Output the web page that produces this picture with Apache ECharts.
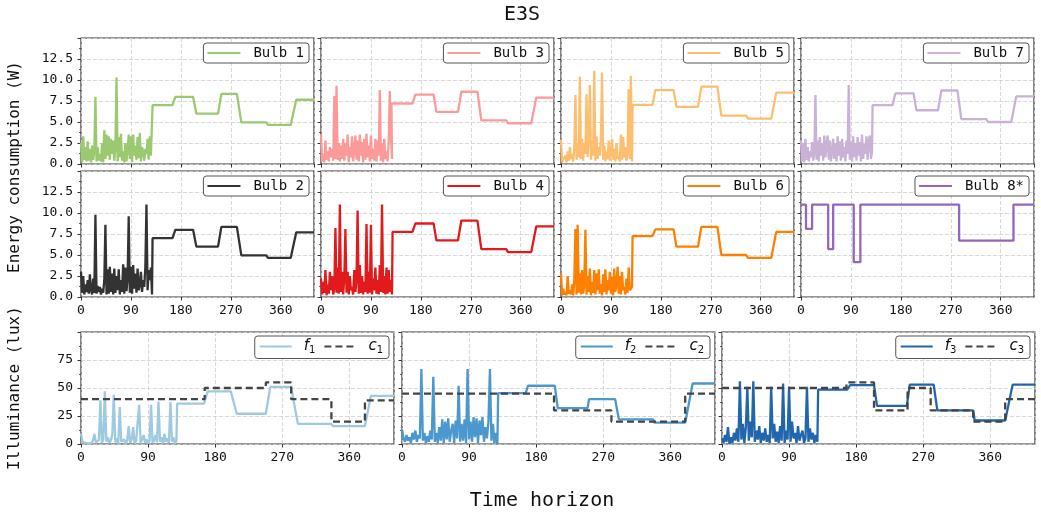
<!DOCTYPE html>
<html><head><meta charset="utf-8">
<script src="https://cdn.jsdelivr.net/npm/echarts@6/dist/echarts.min.js"></script>
<style>html,body{margin:0;padding:0;background:#fff}#c{width:1041px;height:512px}</style>
</head><body><div id="c"></div>
<script>
// ---------- DATA ----------
// noisy start (t = 0,2,4,...,128)
const bulb1Noise = [2.5,0.2,3.3,0.5,2.0,0.3,2.7,0.4,1.8,0.2, 2.2,0.5,1.5,8.0,0.3,2.0,0.4,1.2,0.3,2.5, 0.2,4.0,0.6,3.5,1.0,3.3,0.5,3.0,1.2,2.8, 0.4,2.0,10.3,0.3,3.2,0.8,3.6,0.4,1.5,0.2, 2.5,0.3,1.8,3.5,0.6,3.3,0.2,3.5,1.0,2.2, 0.5,3.2,0.7,3.7,0.3,2.0,1.5,0.4,1.8,1.2, 3.0,0.5,3.3,1.0,0.8];
const bulb2Noise = [3.0,0.5,2.5,0.3,1.5,0.6,2.0,0.4,2.7,0.8, 0.3,2.2,0.5,9.8,0.4,1.3,0.6,1.2,0.3,1.0, 0.5,2.0,8.6,0.3,3.3,0.4,3.6,0.6,2.8,0.3, 3.4,0.5,2.5,0.8,3.3,0.3,2.0,0.6,3.9,0.4, 3.5,0.7,2.2,9.6,0.5,3.6,0.4,3.8,1.0,2.8, 0.5,3.4,0.8,1.5,3.0,0.6,2.0,1.2,3.6,11.0, 0.8,3.2,2.0,3.5,0.3];
const bulb3Noise = [3.5,0.3,1.2,0.2,2.8,0.5,1.5,0.3,2.0,0.8, 1.8,0.4,8.1,0.6,9.3,0.5,2.5,0.3,2.2,0.6, 3.0,0.4,2.5,1.0,3.5,0.2,2.0,0.8,3.3,0.3, 1.5,3.4,0.5,2.8,0.3,3.5,1.0,2.6,0.2,3.0, 0.5,3.6,0.8,2.2,0.3,3.4,0.6,1.8,0.4,3.0, 0.3,2.8,1.0,8.8,0.4,2.5,0.2,3.0,0.6,1.5, 0.3,2.6,8.7,3.5,0.6];
const bulb4Noise = [2.2,0.3,1.8,0.5,3.2,0.2,1.5,0.4,3.0,0.8, 2.5,0.3,1.0,8.2,0.5,3.5,0.4,11.0,0.6,3.0, 0.3,2.2,8.1,0.5,3.0,0.3,2.5,0.8,1.2,0.3, 3.2,0.6,2.0,10.3,0.4,3.8,0.5,2.5,0.3,1.8, 0.6,8.7,0.4,3.0,0.5,8.6,0.3,2.2,0.8,3.5, 0.4,2.0,0.3,3.8,0.6,11.0,0.5,2.5,0.3,3.5, 0.4,3.2,0.6,2.0,0.3];
const bulb5Noise = [2.9,0.2,0.5,0.3,1.0,0.2,1.5,0.4,2.0,0.6, 1.2,0.3,2.0,8.2,0.5,2.5,0.8,10.4,0.6,3.0, 0.4,2.5,1.2,8.3,0.8,3.2,9.4,0.5,2.8,1.0, 11.1,0.4,3.3,0.6,2.0,1.0,3.0,10.9,0.5,2.2, 0.3,1.5,0.6,2.8,0.4,1.2,3.0,0.5,1.8,0.3, 2.5,0.6,1.0,0.3,3.5,0.5,3.2,0.8,2.0,0.4, 1.5,8.9,0.6,10.5,0.3];
const bulb6Noise = [2.8,0.2,1.0,0.3,0.6,0.2,2.5,0.4,0.8,0.3, 1.5,0.2,2.0,8.1,0.3,8.6,0.5,2.8,0.3,3.2, 0.4,1.5,8.0,0.3,2.5,0.6,3.4,0.2,1.8,0.5, 3.2,0.3,2.8,0.8,3.3,0.4,1.5,0.2,2.7,0.6, 3.3,0.3,2.0,0.8,3.0,0.4,2.4,0.2,3.4,0.6, 1.5,3.6,0.4,2.5,0.3,3.0,0.8,1.2,0.3,2.2, 0.5,3.5,0.8,1.0,1.2];
const bulb7Noise = [2.8,0.3,2.5,0.2,3.0,0.5,2.0,0.3,1.5,0.8, 2.6,0.4,1.2,8.2,0.5,2.8,0.3,3.2,1.0,2.5, 0.4,3.4,0.8,2.2,3.4,0.5,2.8,0.3,1.5,3.0, 0.6,2.5,0.3,3.3,1.0,2.7,0.4,3.0,0.8,2.0, 0.3,2.8,1.2,9.4,0.5,2.6,0.3,3.3,0.8,2.5, 0.4,3.2,1.0,2.6,0.3,3.5,0.6,2.4,1.2,3.3, 0.5,2.8,3.4,0.6,1.5];
// scheduled part [time, W]
const bulb1Steps = [[129,7.0],[165,7.0],[170,8.0],[202,8.0],[208,6.0],[247,6.0],[253,8.35],[281,8.35],[289,4.95],[334,4.95],[337,4.65],[378,4.65],[388,7.65],[420,7.65]];
const bulb2Steps = [[129,7.0],[165,7.0],[170,8.0],[202,8.0],[208,6.0],[247,6.0],[253,8.35],[281,8.35],[289,4.95],[334,4.95],[337,4.65],[378,4.65],[388,7.7],[420,7.7]];
const bulb3Steps = [[127,7.2],[165,7.2],[170,8.25],[203,8.25],[208,6.2],[247,6.2],[253,8.6],[282,8.6],[289,5.2],[334,5.2],[337,4.85],[379,4.85],[388,7.9],[420,7.9]];
const bulb4Steps = [[129,7.75],[165,7.75],[170,8.75],[203,8.75],[208,6.75],[247,6.75],[253,9.1],[282,9.1],[289,5.7],[334,5.7],[337,5.35],[379,5.35],[388,8.4],[420,8.4]];
const bulb5Steps = [[129,7.05],[165,7.05],[170,8.8],[203,8.8],[208,6.8],[247,6.8],[253,9.2],[282,9.2],[289,5.75],[334,5.75],[337,5.4],[379,5.4],[388,8.5],[420,8.5]];
const bulb6Steps = [[129,7.25],[165,7.25],[170,8.05],[203,8.05],[208,6.0],[247,6.0],[253,8.35],[282,8.35],[289,5.0],[334,5.0],[337,4.65],[379,4.65],[388,7.75],[420,7.75]];
const bulb7Steps = [[129,7.0],[165,7.0],[170,8.4],[203,8.4],[208,6.4],[247,6.4],[253,8.75],[282,8.75],[289,5.35],[334,5.35],[337,5.0],[379,5.0],[388,8.05],[420,8.05]];
const bulb8Points = [[0,11.0],[9,11.0],[9,8.1],[20,8.1],[20,11.0],[49,11.0],[49,5.7],[58,5.7],[58,11.0],[95,11.0],[95,4.15],[107,4.15],[107,11.0],[285,11.0],[285,6.7],[383,6.7],[383,11.0],[420,11.0]];

// illuminance (lux)
const f1Noise = [9.5,2.0,3.0,1.0,2.5,0.5,1.5,0.8,3.0,9.0, 1.5,0.5,3.5,39,1.0,4.0,47,2.0,6.0,1.0, 3.0,8.0,44,1.5,5.0,0.5,33,2.0,1.0,4.0, 0.5,3.0,16,1.0,4.0,15,0.5,3.0,1.5,35, 0.5,2.0,8.0,1.0,4.0,0.5,2.5,35,1.0,3.0, 8.0,1.5,38,2.0,6.0,0.5,9.0,2.0,5.0,1.0, 37.5,2.0,6.0,0.5,3.0];
const f2Noise = [13,5,2,8,3,6,1,10,4,12, 2,8,5,67,3,10,1,7,2,12, 4,60,2,10,1,15,3,22,1,20, 4,23,2,12,18,1,21,5,52,2, 18,3,22,1,67,4,20,2,24,6, 23,1,21,8,24,2,15,5,20,67, 3,18,1,10,0];
const f3Noise = [5,1,8,2,15,0,6,1,10,3, 14,2,56,4,18,1,15,51,3,20, 6,56,2,12,4,16,1,10,3,14, 2,8,1,51,5,18,2,11,1,16, 3,54,1,12,4,51,2,20,5,10, 1,16,3,8,12,1,5,51,2,14, 4,10,1,8,2];
const f1Steps = [[129,36],[165,36],[170,47],[201,47],[209,27],[248,27],[254,51],[282,51],[291,18],[336,18],[338,16],[381,16],[389,43],[420,43]];
const f2Steps = [[129,45.5],[166,45.5],[169,52],[205,52],[209,32],[249,32],[251,40],[286,40],[291,22],[337,22],[339,19],[380,19],[390,54],[420,54]];
const f3Steps = [[129,48.5],[168,48.5],[172,52.5],[204,52.5],[208,34],[248,34],[252,53],[284,53],[289,30],[337,30],[339,21],[380,21],[390,53],[420,53]];
const c1Points = [[0,40],[166,40],[166,50],[248,50],[248,55],[282,55],[282,40],[336,40],[336,20],[381,20],[381,39],[420,39]];
const c2Points = [[0,45],[204,45],[204,30],[281,30],[281,20],[380,20],[380,45],[420,45]];
const c3Points = [[0,50],[167,50],[167,55],[204,55],[204,30],[249,30],[249,50],[280,50],[280,30],[337,30],[337,20],[380,20],[380,40],[420,40]];

const xTicks = [0, 90, 180, 270, 360];
const bulbNames = ['Bulb 1','Bulb 3','Bulb 5','Bulb 7','Bulb 2','Bulb 4','Bulb 6','Bulb 8*'];
const bulbColors = ['#9bc96f','#fb9a99','#fdbf6f','#cab2d6','#333333','#e31a1c','#ff7f00','#9467bd'];
const fColors = ['#9ecae1','#4a98cf','#2166ac'];
const cColor = '#444444';

// ---------- BUILD ----------
const FONT = 'DejaVu Sans Mono';
const withTime = (noise, steps) => noise.map((v, i) => [i * 2, v]).concat(steps);
const bulbData = [
  withTime(bulb1Noise, bulb1Steps), withTime(bulb3Noise, bulb3Steps),
  withTime(bulb5Noise, bulb5Steps), withTime(bulb7Noise, bulb7Steps),
  withTime(bulb2Noise, bulb2Steps), withTime(bulb4Noise, bulb4Steps),
  withTime(bulb6Noise, bulb6Steps), bulb8Points
];
const fData = [withTime(f1Noise, f1Steps), withTime(f2Noise, f2Steps), withTime(f3Noise, f3Steps)];
const cData = [c1Points, c2Points, c3Points];

const W = 1041;
const topLefts = [81, 321, 561, 801], topW = 233, rowTops = [38, 171], rowH = 126;
const botLefts = [81, 402, 722], botW = 313, botTop = 332, botH = 112;
const LW = 2.3;

const grids = [], xAxes = [], yAxes = [], series = [], legends = [];
const axisCol = '#333';
const split = { show: true, lineStyle: { color: '#cfcfcf', type: [4, 2], width: 0.8 } };
const tickLbl = { fontFamily: FONT, fontSize: 13, color: '#111' };

function addGrid(left, top, w, h, showX, showY, yMax, yInt, yFmt) {
  const gi = grids.length;
  grids.push({ left, top, width: w, height: h, show: true, borderColor: axisCol, borderWidth: 1.2,
    backgroundColor: '#fff', containLabel: false, outerBoundsMode: 'none' });
  xAxes.push({ type: 'value', gridIndex: gi, min: 0, max: 420, interval: 90,
    axisLine: { show: false }, axisTick: { show: true, length: 3.5, lineStyle: { color: axisCol, width: 1 } },
    axisLabel: Object.assign({ show: showX, margin: 7, showMaxLabel: false }, tickLbl),
    splitLine: split });
  yAxes.push({ type: 'value', gridIndex: gi, min: 0, max: yMax, interval: yInt,
    axisLine: { show: false }, axisTick: { show: true, length: 3.5, lineStyle: { color: axisCol, width: 1 } },
    minorTick: { show: true, splitNumber: 2, length: 2, lineStyle: { color: axisCol, width: 0.8 } },
    axisLabel: Object.assign({ show: showY, margin: 8, showMaxLabel: false, formatter: yFmt }, tickLbl),
    splitLine: split });
  return gi;
}

const legendBase = {
  orient: 'horizontal', itemWidth: 33, itemHeight: 14, backgroundColor: '#fff',
  borderColor: '#555', borderWidth: 1, borderRadius: 3, selectedMode: false,
  itemStyle: { opacity: 0 }
};

for (let k = 0; k < 8; k++) {
  const r = Math.floor(k / 4), c = k % 4;
  const gi = addGrid(topLefts[c], rowTops[r], topW, rowH, r === 1, c === 0, 15, 2.5, v => v.toFixed(1));
  series.push({ name: bulbNames[k], type: 'line', xAxisIndex: gi, yAxisIndex: gi, data: bulbData[k],
    symbol: 'none', lineStyle: { width: LW, color: bulbColors[k] }, itemStyle: { color: bulbColors[k] }, animation: false });
  legends.push(Object.assign({}, legendBase, {
    data: [bulbNames[k]], right: W - (topLefts[c] + topW - 5), top: rowTops[r] + 5,
    padding: [3, 5, 3, 3], textStyle: { fontFamily: FONT, fontSize: 14, color: '#111', padding: [0, 0, 0, 8] }
  }));
}

for (let k = 0; k < 3; k++) {
  const gi = addGrid(botLefts[k], botTop, botW, botH, true, k === 0, 100, 25, v => String(v));
  const fn = 'f' + (k + 1), cn = 'c' + (k + 1);
  series.push({ name: fn, type: 'line', xAxisIndex: gi, yAxisIndex: gi, data: fData[k], symbol: 'none',
    lineStyle: { width: LW, color: fColors[k] }, itemStyle: { color: fColors[k] }, animation: false });
  series.push({ name: cn, type: 'line', xAxisIndex: gi, yAxisIndex: gi, data: cData[k], symbol: 'none',
    lineStyle: { width: LW, color: cColor, type: [7, 4] }, itemStyle: { color: cColor }, animation: false });
  legends.push(Object.assign({}, legendBase, {
    data: [fn, cn], right: W - (botLefts[k] + botW - 5), top: botTop + 4, itemGap: 8, itemWidth: 32,
    padding: [3, 6, 3, 4],
    formatter: n => '{i|' + n[0] + '}{s|' + n.slice(1) + '}',
    textStyle: { padding: [0, 0, 0, 7], color: '#111',
      rich: {
        i: { fontFamily: 'DejaVu Sans', fontStyle: 'italic', fontSize: 15, lineHeight: 18, color: '#111' },
        s: { fontFamily: 'DejaVu Sans', fontSize: 10, lineHeight: 11, verticalAlign: 'bottom', color: '#111' }
      } }
  }));
}

const chart = echarts.init(document.getElementById('c'), null, { renderer: 'canvas' });
chart.setOption({
  backgroundColor: '#fff',
  animation: false,
  grid: grids, xAxis: xAxes, yAxis: yAxes, series, legend: legends,
  graphic: [
    { type: 'text', x: 522, y: 15, style: { text: 'E3S', font: '20px "DejaVu Sans Mono"', fill: '#111', textAlign: 'center', textVerticalAlign: 'middle' } },
    { type: 'text', x: 542, y: 501, style: { text: 'Time horizon', font: '20px "DejaVu Sans Mono"', fill: '#111', textAlign: 'center', textVerticalAlign: 'middle' } },
    { type: 'text', x: 15, y: 167, rotation: Math.PI / 2, style: { text: 'Energy consumption (W)', font: '16px "DejaVu Sans Mono"', fill: '#111', textAlign: 'center', textVerticalAlign: 'middle' } },
    { type: 'text', x: 15, y: 388, rotation: Math.PI / 2, style: { text: 'Illuminance (lux)', font: '16px "DejaVu Sans Mono"', fill: '#111', textAlign: 'center', textVerticalAlign: 'middle' } }
  ]
});
</script></body></html>
